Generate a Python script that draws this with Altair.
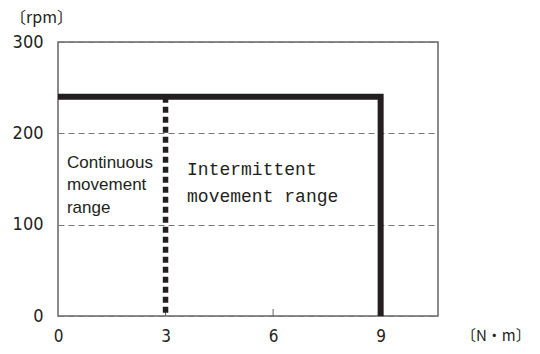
import altair as alt
import pandas as pd

# axis ticks
x_ticks = [0, 3, 6, 9]
y_ticks = [0, 100, 200, 300]
inner_ticks = [3, 6, 9]

# intermittent limit (thick solid)
limit_x = [0, 9, 9]
limit_y = [240, 240, 0]
limit_order = [0, 1, 2]

# continuous limit (thick dotted)
cont_x = [3, 3]
cont_y = [240, 0]

# annotations
cont_lines = ["Continuous", "movement", "range"]
cont_lx = [0.25, 0.25, 0.25]
cont_ly = [168, 143, 118]
int_lines = ["Intermittent", "movement range"]
int_lx = [3.6, 3.6]
int_ly = [160, 130]

W, H = 380, 274
INK = "#231f20"
NUMFONT = "'DejaVu Sans Condensed', 'Liberation Sans', sans-serif"

xs = alt.Scale(domain=[0, 10.6], nice=False, zero=False)
ys = alt.Scale(domain=[0, 300], nice=False)

limit_df = pd.DataFrame({"x": limit_x, "y": limit_y, "o": limit_order})
cont_df = pd.DataFrame({"x": cont_x, "y": cont_y})
cont_txt = pd.DataFrame({"x": cont_lx, "y": cont_ly, "t": cont_lines})
int_txt = pd.DataFrame({"x": int_lx, "y": int_ly, "t": int_lines})
tick_df = pd.DataFrame({"x": inner_ticks})

base_axes = alt.Chart(pd.DataFrame({"x": [0], "y": [0]})).mark_point(opacity=0).encode(
    x=alt.X("x:Q", scale=xs, axis=alt.Axis(values=x_ticks, grid=False, tickSize=0, domain=False,
                                           labelPadding=12, title=None, labelFontSize=17,
                                           labelFlush=False, labelFont=NUMFONT, labelColor=INK)),
    y=alt.Y("y:Q", scale=ys, axis=alt.Axis(values=y_ticks, grid=True, gridDash=[6, 4],
                                           gridColor="#777777", gridWidth=1, tickSize=0,
                                           domain=False, labelPadding=15, title=None,
                                           labelFontSize=18, labelFlush=False, labelFont=NUMFONT,
                                           labelColor=INK)),
)

ticks = alt.Chart(tick_df).mark_rule(color="#666666", strokeWidth=1).encode(
    x=alt.X("x:Q", scale=xs),
    y=alt.value(H - 7),
    y2=alt.value(H),
)

limit = alt.Chart(limit_df).mark_line(color=INK, strokeWidth=6, strokeCap="butt",
                                      strokeJoin="miter").encode(
    x=alt.X("x:Q", scale=xs),
    y=alt.Y("y:Q", scale=ys),
    order="o:Q",
)

cont = alt.Chart(cont_df).mark_line(color=INK, strokeWidth=5.5, strokeDash=[6, 4],
                                    strokeCap="butt").encode(
    x=alt.X("x:Q", scale=xs),
    y=alt.Y("y:Q", scale=ys),
)

ctext = alt.Chart(cont_txt).mark_text(align="left", baseline="middle", fontSize=17,
                                      font="Liberation Sans", color=INK).encode(
    x=alt.X("x:Q", scale=xs), y=alt.Y("y:Q", scale=ys), text="t:N")

itext = alt.Chart(int_txt).mark_text(align="left", baseline="middle", fontSize=18,
                                     font="Liberation Mono", color=INK).encode(
    x=alt.X("x:Q", scale=xs), y=alt.Y("y:Q", scale=ys), text="t:N")

unit_y = alt.Chart(pd.DataFrame({"t": ["〔rpm〕"]})).mark_text(
    align="left", baseline="alphabetic", fontSize=16, font="Noto Sans CJK JP", color=INK
).encode(x=alt.value(-48), y=alt.value(-19), text="t:N")

unit_x = alt.Chart(pd.DataFrame({"t": ["〔N・m〕"]})).mark_text(
    align="left", baseline="middle", fontSize=15, font="Noto Sans CJK JP", color=INK
).encode(x=alt.value(403), y=alt.value(294), text="t:N")

chart = alt.layer(base_axes, ticks, limit, cont, ctext, itext, unit_y, unit_x).properties(
    width=W, height=H,
    background="white",
    autosize=alt.AutoSizeParams(type="none"),
    padding={"left": 50, "top": 34, "right": 94, "bottom": 30},
).configure_view(stroke="#666666", strokeWidth=1.5)

chart.save("out.html", embed_options={"renderer": "svg", "actions": False})
